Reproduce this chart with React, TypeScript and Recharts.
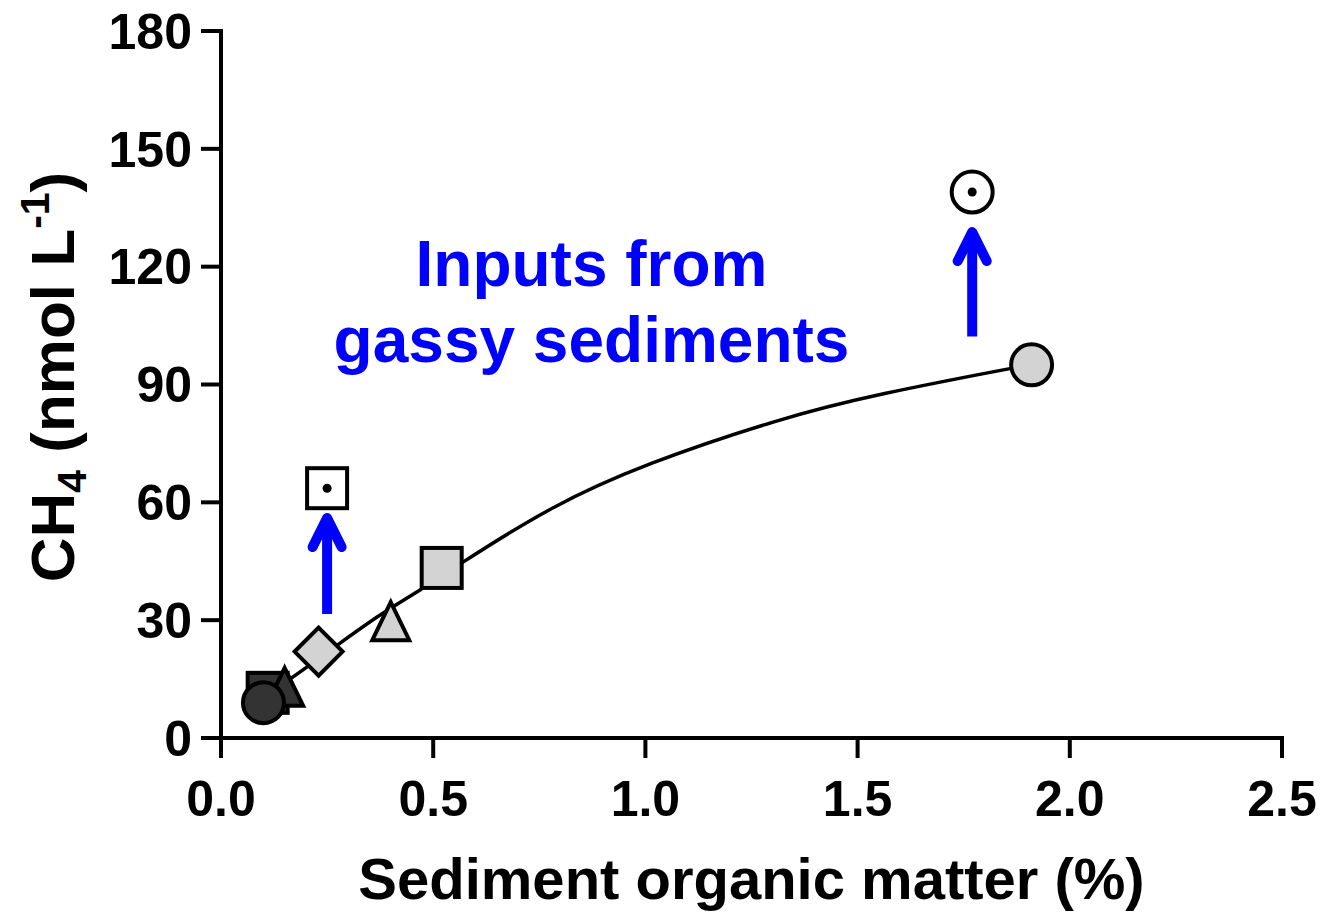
import React from 'react';
import { ComposedChart, Line, Scatter, XAxis, YAxis, ReferenceLine, ReferenceDot } from 'recharts';

// measured points (sediment organic matter %, CH4 nmol/L)
const pointX = [0.11, 0.15, 0.1, 0.23, 0.4, 0.52, 1.91];
const pointY = [11.5, 13.3, 9, 22, 30, 43.3, 95];
const pointKind = ['square', 'triangle', 'circle', 'diamond', 'triangle', 'square', 'circle'];
const pointTone = ['dark', 'dark', 'dark', 'light', 'light', 'light', 'light'];

// sites with gas inputs
const gassyX = [0.25, 1.77];
const gassyY = [63.6, 139];
const gassyKind = ['squareDot', 'circleDot'];

// fitted curve
const fitX = [0.1, 0.165, 0.28, 0.375, 0.469, 0.572, 0.772, 1.014, 1.303, 1.564, 1.862, 1.91];
const fitY = [10.5, 15.2, 24.1, 31.3, 37.7, 44.9, 58.0, 69.9, 80.5, 87.7, 94.1, 95];

// arrows
const arrowX = [0.25, 1.77];
const arrowFrom = [31.6, 102.2];
const arrowTo = [56, 128.8];

const xTicks = [0, 0.5, 1, 1.5, 2, 2.5];
const yTicks = [0, 30, 60, 90, 120, 150, 180];
const noteLines = ['Inputs from', 'gassy sediments'];

const FONT = '"Liberation Sans", Arial, Helvetica, sans-serif';
const fills: Record<string, string> = { dark: '#333333', light: '#d3d3d3', open: '#ffffff' };

const points = pointX.map((x, i) => ({ x, y: pointY[i], kind: pointKind[i], tone: pointTone[i] }));
const gassy = gassyX.map((x, i) => ({ x, y: gassyY[i], kind: gassyKind[i], tone: 'open' }));
const fit = fitX.map((x, i) => ({ x, y: fitY[i] }));

function Marker(props: any) {
  const { cx, cy, payload } = props;
  if (cx == null || cy == null) return null;
  const fill = fills[payload.tone];
  const s = { fill, stroke: '#000', strokeWidth: 4 };
  switch (payload.kind) {
    case 'circle':
      return <circle cx={cx} cy={cy} r={20.5} {...s} />;
    case 'square':
      return <rect x={cx - 20} y={cy - 20} width={40} height={40} {...s} />;
    case 'diamond':
      return <polygon points={`${cx},${cy - 24} ${cx + 24},${cy} ${cx},${cy + 24} ${cx - 24},${cy}`} {...s} />;
    case 'triangle':
      return <polygon points={`${cx},${cy - 18} ${cx + 18.5},${cy + 20} ${cx - 18.5},${cy + 20}`} {...s} />;
    case 'squareDot':
      return (
        <g>
          <rect x={cx - 20} y={cy - 20} width={40} height={40} {...s} />
          <circle cx={cx} cy={cy} r={4.5} fill="#000" />
        </g>
      );
    case 'circleDot':
      return (
        <g>
          <circle cx={cx} cy={cy} r={20.5} {...s} />
          <circle cx={cx} cy={cy} r={4.5} fill="#000" />
        </g>
      );
    default:
      return null;
  }
}

function Arrow(props: any) {
  const { x1, y1, x2, y2 } = props;
  if (x1 == null) return null;
  return (
    <g stroke="#0000ff" strokeWidth={10} fill="none">
      <line x1={x1} y1={y1} x2={x2} y2={y2 + 3} />
      <polyline
        points={`${x2 - 14.5},${y2 + 29} ${x2},${y2} ${x2 + 14.5},${y2 + 29}`}
        strokeLinecap="round"
        strokeLinejoin="round"
      />
    </g>
  );
}

function YTitle() {
  return (
    <text
      x={0}
      y={0}
      transform="translate(74 377) rotate(-90)"
      textAnchor="middle"
      fontFamily={FONT}
      fontWeight="bold"
      fontSize={62}
      fill="#000"
    >
      CH<tspan fontSize={41} dy={12}>4</tspan>
      <tspan dy={-12}> (nmol L</tspan>
      <tspan fontSize={41} dy={-25}>-1</tspan>
      <tspan dy={25}>)</tspan>
    </text>
  );
}

const axisLine = { stroke: '#000', strokeWidth: 4, strokeLinecap: 'square' as const };
const tickLine = { stroke: '#000', strokeWidth: 4 };
const tickStyle = { fill: '#000', fontSize: 50, fontWeight: 'bold', fontFamily: FONT };

export default function App() {
  return (
    <div style={{ position: 'absolute', left: 0, top: 0, background: '#fff' }}>
      <ComposedChart width={1324} height={912} margin={{ top: 31, right: 42, left: 0, bottom: 0 }}>
        <XAxis
          dataKey="x"
          type="number"
          domain={[0, 2.5]}
          ticks={xTicks}
          tickFormatter={(v: number) => v.toFixed(1)}
          height={174}
          tickSize={20}
          tickMargin={22}
          axisLine={axisLine}
          tickLine={tickLine}
          tick={tickStyle}
          label={{
            content: () => (
              <text x={751.5} y={899} textAnchor="middle" fontFamily={FONT} fontWeight="bold" fontSize={58} fill="#000">
                Sediment organic matter (%)
              </text>
            ),
          }}
        />
        <YAxis
          dataKey="y"
          type="number"
          domain={[0, 180]}
          ticks={yTicks}
          width={221}
          tickSize={20}
          tickMargin={9}
          axisLine={axisLine}
          tickLine={tickLine}
          tick={tickStyle}
          label={{ content: () => <YTitle /> }}
        />
        <XAxis
          xAxisId="top"
          orientation="top"
          type="number"
          domain={[0, 2.5]}
          ticks={xTicks}
          height={0}
          tickSize={20}
          tick={false}
          axisLine={axisLine}
          tickLine={tickLine}
        />
        <YAxis
          yAxisId="right"
          orientation="right"
          type="number"
          domain={[0, 180]}
          ticks={yTicks}
          width={0}
          tickSize={20}
          tick={false}
          axisLine={axisLine}
          tickLine={tickLine}
        />
        <Line
          data={fit}
          dataKey="y"
          type="natural"
          stroke="#000"
          strokeWidth={3.5}
          dot={false}
          activeDot={false}
          isAnimationActive={false}
        />
        <Scatter data={points} dataKey="y" shape={Marker} isAnimationActive={false} />
        <Scatter data={gassy} dataKey="y" shape={Marker} isAnimationActive={false} />
        {arrowX.map((x, i) => (
          <ReferenceLine
            key={i}
            segment={[
              { x, y: arrowFrom[i] },
              { x, y: arrowTo[i] },
            ]}
            shape={Arrow}
          />
        ))}
        <ReferenceDot
          x={0.873}
          y={115.2}
          r={0}
          fill="none"
          stroke="none"
          label={{
            content: (p: any) => {
              const vb = p.viewBox || { x: 591.5, y: 285.5 };
              return (
                <text textAnchor="middle" fontFamily={FONT} fontWeight="bold" fontSize={64} fill="#0000ff">
                  <tspan x={vb.x} y={vb.y}>{noteLines[0]}</tspan>
                  <tspan x={vb.x} y={vb.y + 76}>{noteLines[1]}</tspan>
                </text>
              );
            },
          }}
        />
      </ComposedChart>
    </div>
  );
}
